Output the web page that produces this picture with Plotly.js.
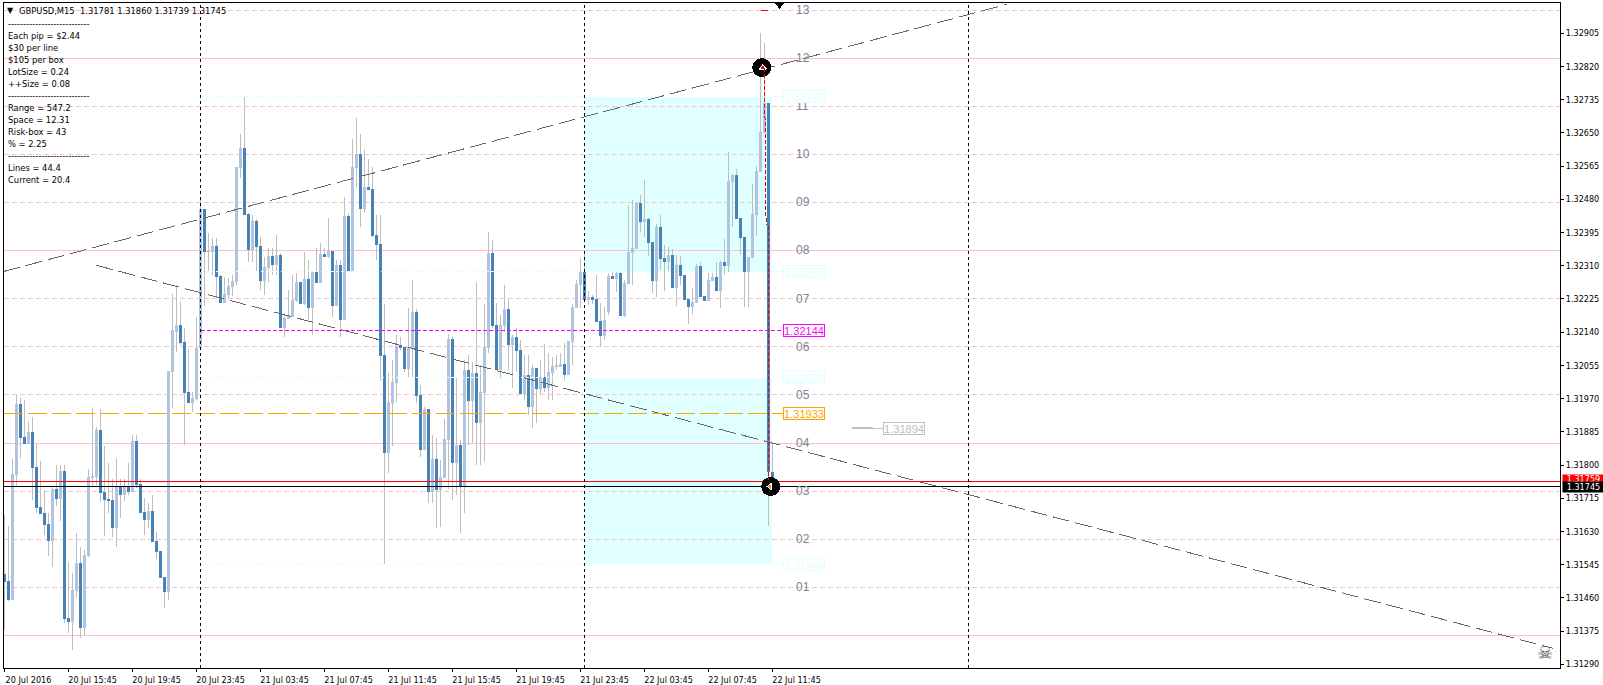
<!DOCTYPE html>
<html><head><meta charset="utf-8">
<script src="https://cdn.plot.ly/plotly-3.0.1.min.js"></script>
<style>html,body{margin:0;padding:0;background:#fff;overflow:hidden}
#c{width:1603px;height:685px}
.main-svg path{shape-rendering:crispEdges}
</style></head><body><div id="c"></div>
<script>
const opens=[1.31521,1.31503,1.31455,1.31774,1.31956,1.31872,1.31854,1.31885,1.31795,1.31693,
1.31677,1.31649,1.31606,1.31739,1.31713,1.31785,1.31409,1.31398,1.31478,1.31549,
1.31383,1.31567,1.31767,1.31769,1.31890,1.31731,1.31713,1.31711,1.31639,1.31744,
1.31723,1.31744,1.31731,1.31861,1.31751,1.31680,1.31659,1.31682,1.31606,1.31580,
1.31513,1.31475,1.32038,1.32140,1.32158,1.32115,1.31987,1.31959,1.31969,1.32099,
1.32455,1.32345,1.32345,1.32360,1.32284,1.32215,1.32235,1.32256,1.32268,1.32560,
1.32611,1.32442,1.32350,1.32424,1.32360,1.32271,1.32304,1.32335,1.32312,1.32337,
1.32151,1.32174,1.32179,1.32220,1.32268,1.32212,1.32276,1.32202,1.32294,1.32266,
1.32340,1.32332,1.32348,1.32207,1.32312,1.32171,1.32437,1.32297,1.32560,1.32596,
1.32455,1.32511,1.32506,1.32389,1.32366,1.32082,1.31831,1.31959,1.32010,1.32105,
1.32102,1.32046,1.32099,1.32192,1.31979,1.31838,1.31943,1.31731,1.31815,1.31736,
1.31767,1.31864,1.32122,1.31805,1.31851,1.31744,1.32043,1.31964,1.32035,1.31908,
1.31984,1.32099,1.32343,1.32158,1.32043,1.32156,1.32199,1.32107,1.32128,1.32094,
1.31982,1.32030,1.31948,1.32048,1.31995,1.32025,1.31997,1.32035,1.32051,1.32051,
1.32059,1.32030,1.32115,1.32202,1.32261,1.32294,1.32222,1.32230,1.32225,1.32169,
1.32130,1.32192,1.32284,1.32276,1.32291,1.32181,1.32263,1.32343,1.32353,1.32471,
1.32422,1.32430,1.32371,1.32271,1.32409,1.32330,1.32320,1.32337,1.32253,1.32312,
1.32286,1.32225,1.32204,1.32215,1.32309,1.32233,1.32220,1.32271,1.32281,1.32245,
1.32320,1.32309,1.32524,1.32542,1.32432,1.32384,1.32294,1.32330,1.32440,1.32550,
1.32650,1.32726,1.31781];
const closes=[1.31501,1.31455,1.31777,1.31956,1.31869,1.31854,1.31885,1.31792,1.31690,1.31675,
1.31647,1.31606,1.31739,1.31713,1.31785,1.31406,1.31398,1.31480,1.31549,1.31383,
1.31570,1.31769,1.31772,1.31890,1.31728,1.31711,1.31708,1.31639,1.31744,1.31723,
1.31746,1.31731,1.31861,1.31749,1.31677,1.31659,1.31682,1.31603,1.31577,1.31511,
1.31475,1.32041,1.32146,1.32158,1.32112,1.31984,1.31959,1.31972,1.32099,1.32455,
1.32345,1.32348,1.32360,1.32281,1.32215,1.32238,1.32258,1.32271,1.32563,1.32611,
1.32440,1.32350,1.32424,1.32358,1.32271,1.32307,1.32335,1.32312,1.32337,1.32151,
1.32176,1.32184,1.32222,1.32268,1.32212,1.32276,1.32202,1.32294,1.32266,1.32340,
1.32332,1.32348,1.32207,1.32312,1.32171,1.32437,1.32297,1.32563,1.32596,1.32455,
1.32511,1.32504,1.32386,1.32363,1.32079,1.31831,1.31961,1.32012,1.32105,1.32099,
1.32046,1.32102,1.32192,1.31977,1.31838,1.31943,1.31731,1.31815,1.31736,1.31769,
1.31867,1.32122,1.31805,1.31851,1.31744,1.32043,1.31964,1.32035,1.31908,1.31987,
1.32102,1.32343,1.32156,1.32043,1.32158,1.32199,1.32107,1.32128,1.32092,1.31982,
1.32030,1.31948,1.32048,1.31995,1.32025,1.31997,1.32038,1.32053,1.32056,1.32059,
1.32030,1.32117,1.32204,1.32263,1.32294,1.32222,1.32230,1.32222,1.32166,1.32130,
1.32171,1.32284,1.32276,1.32291,1.32181,1.32266,1.32345,1.32355,1.32471,1.32422,
1.32430,1.32368,1.32271,1.32409,1.32327,1.32320,1.32337,1.32253,1.32312,1.32284,
1.32222,1.32204,1.32217,1.32309,1.32230,1.32220,1.32273,1.32281,1.32245,1.32320,
1.32309,1.32527,1.32542,1.32430,1.32381,1.32294,1.32332,1.32442,1.32552,1.32652,
1.32726,1.31782,1.31745];
const highs=[1.31672,1.31644,1.31815,1.31979,1.31972,1.31966,1.31910,1.31923,1.31854,1.31810,
1.31736,1.31677,1.31744,1.31800,1.31800,1.31800,1.31552,1.31524,1.31626,1.31590,
1.31583,1.31790,1.31946,1.31897,1.31943,1.31849,1.31805,1.31764,1.31818,1.31764,
1.31764,1.31805,1.31877,1.31877,1.31764,1.31716,1.31703,1.31723,1.31629,1.31580,
1.31513,1.32041,1.32238,1.32261,1.32217,1.32151,1.32097,1.31987,1.32179,1.32486,
1.32455,1.32394,1.32381,1.32381,1.32286,1.32281,1.32279,1.32286,1.32563,1.32647,
1.32742,1.32445,1.32440,1.32430,1.32384,1.32332,1.32355,1.32355,1.32389,1.32343,
1.32189,1.32248,1.32286,1.32291,1.32268,1.32345,1.32325,1.32294,1.32355,1.32368,
1.32355,1.32432,1.32348,1.32325,1.32325,1.32486,1.32445,1.32634,1.32688,1.32647,
1.32606,1.32583,1.32563,1.32440,1.32440,1.32212,1.32035,1.32069,1.32133,1.32128,
1.32102,1.32202,1.32273,1.32199,1.32005,1.31948,1.31943,1.31877,1.31869,1.31813,
1.31918,1.32135,1.32128,1.32023,1.31864,1.32069,1.32082,1.32064,1.32268,1.32056,
1.32212,1.32396,1.32376,1.32215,1.32184,1.32261,1.32225,1.32133,1.32151,1.32120,
1.32082,1.32082,1.32056,1.32048,1.32069,1.32110,1.32087,1.32076,1.32082,1.32087,
1.32112,1.32117,1.32212,1.32273,1.32330,1.32345,1.32245,1.32235,1.32286,1.32215,
1.32204,1.32291,1.32294,1.32294,1.32294,1.32273,1.32465,1.32478,1.32473,1.32491,
1.32529,1.32432,1.32371,1.32417,1.32440,1.32363,1.32358,1.32353,1.32337,1.32335,
1.32286,1.32225,1.32253,1.32314,1.32320,1.32233,1.32291,1.32291,1.32320,1.32322,
1.32378,1.32601,1.32545,1.32558,1.32432,1.32384,1.32332,1.32519,1.32565,1.32906,
1.32880,1.32726,1.31860];
const lows=[1.31378,1.31452,1.31455,1.31744,1.31818,1.31854,1.31854,1.31711,1.31677,1.31675,
1.31621,1.31567,1.31539,1.31695,1.31657,1.31396,1.31370,1.31327,1.31460,1.31357,
1.31365,1.31565,1.31744,1.31749,1.31705,1.31618,1.31677,1.31616,1.31590,1.31664,
1.31708,1.31723,1.31731,1.31741,1.31677,1.31621,1.31639,1.31603,1.31560,1.31511,
1.31434,1.31455,1.31946,1.32089,1.32107,1.31851,1.31959,1.31936,1.31966,1.32099,
1.32207,1.32294,1.32284,1.32227,1.32215,1.32215,1.32227,1.32233,1.32261,1.32534,
1.32440,1.32320,1.32320,1.32294,1.32248,1.32235,1.32268,1.32286,1.32286,1.32151,
1.32128,1.32174,1.32179,1.32217,1.32212,1.32209,1.32171,1.32133,1.32266,1.32266,
1.32332,1.32330,1.32179,1.32207,1.32128,1.32171,1.32297,1.32297,1.32511,1.32409,
1.32445,1.32504,1.32384,1.32325,1.32015,1.31547,1.31780,1.31849,1.31961,1.32094,
1.32038,1.32023,1.32023,1.31959,1.31821,1.31838,1.31703,1.31703,1.31639,1.31641,
1.31767,1.31739,1.31711,1.31723,1.31626,1.31677,1.31851,1.31856,1.31800,1.31800,
1.31808,1.32087,1.32151,1.32043,1.32023,1.32140,1.32043,1.31997,1.32038,1.31982,
1.31966,1.31928,1.31895,1.31908,1.31982,1.31987,1.31966,1.31966,1.32043,1.32051,
1.32015,1.32030,1.32056,1.32202,1.32202,1.32222,1.32209,1.32212,1.32166,1.32102,
1.32120,1.32184,1.32276,1.32243,1.32181,1.32179,1.32263,1.32261,1.32353,1.32396,
1.32384,1.32335,1.32240,1.32230,1.32299,1.32245,1.32297,1.32253,1.32207,1.32261,
1.32222,1.32161,1.32186,1.32215,1.32230,1.32220,1.32220,1.32271,1.32245,1.32202,
1.32286,1.32294,1.32409,1.32430,1.32337,1.32204,1.32204,1.32330,1.32386,1.32550,
1.32650,1.31644,1.31739];
const tickBars=[0,16,32,48,64,80,96,112,128,144,160,176,192];
const tickLabels=["20 Jul 2016","20 Jul 15:45","20 Jul 19:45","20 Jul 23:45","21 Jul 03:45","21 Jul 07:45","21 Jul 11:45","21 Jul 15:45","21 Jul 19:45","21 Jul 23:45","22 Jul 03:45","22 Jul 07:45","22 Jul 11:45"];
const priceTicks=[1.32905,1.32820,1.32735,1.32650,1.32565,1.32480,1.32395,1.32310,1.32225,1.32140,1.32055,1.31970,1.31885,1.31800,1.31715,1.31630,1.31545,1.31460,1.31375,1.31290];
const levelPrices=[1.31364,1.31487,1.31610,1.31733,1.31856,1.31980,1.32103,1.32226,1.32349,1.32472,1.32595,1.32718,1.32841,1.32964];
const levelNames=["","01","02","03","04","05","06","07","08","09","10","11","12","13"];
const daySeparators=[49,145,241];
const risingX=[-0.3,250.6], risingY=[1.32295,1.32979];
const fallingX=[22.95,387.1], fallingY=[1.32311,1.31331];
const boxTop1=1.32742, boxBottom1=1.32295, boxTop2=1.32023, boxBottom2=1.31546;
const pendingPrice=1.32144, entryPrice=1.31933, grayPrice=1.31894, bidRed=1.31759, lastPrice=1.31745;
const leftText=[["---------------------------",24],["Each pip = $2.44",35.5],["$30 per line",47.5],["$105 per box",59.5],["LotSize = 0.24",71.5],["++Size = 0.08",83.5],
["---------------------------",96],["Range = 547.2",107.5],["Space = 12.31",119.5],["Risk-box = 43",131.5],["% = 2.25",143.5],["---------------------------",156],["Lines = 44.4",167.5],["Current = 20.4",179.5]];

const W=1603,H=685,ML=4,MR=43,MT=3,MB=17;
const PX=p=>(p-ML)/(W-ML-MR), PY=p=>1-(p-MT)/(H-MT-MB);
const FONT='"DejaVu Sans Condensed","DejaVu Sans",sans-serif';
const LAB='"Liberation Sans",Arial,sans-serif';
const idx=opens.map((_,i)=>i);
const shapes=[];
const hline=(x0,x1,y,color,dash,layer,w)=>shapes.push({type:'line',xref:'x',yref:'y',x0,x1,y0:y,y1:y,layer:layer||'below',line:{color,width:w||1,dash:dash||'solid'}});
const vline=(x0,x1,y0,y1,color,dash,layer)=>shapes.push({type:'line',xref:'x',yref:'y',x0,x1,y0,y1,layer:layer||'above',line:{color,width:1,dash:dash||'solid'}});
const XMIN=-0.125,XMAX=388.875,YMIN=1.312806,YMAX=1.329823;
[[boxBottom1,boxTop1],[boxBottom2,boxTop2]].forEach(b=>shapes.push({type:'rect',xref:'x',yref:'y',x0:145,x1:191.8,y0:b[0],y1:b[1],layer:'below',fillcolor:'#e0ffff',line:{width:0}}));
[boxTop1,boxBottom1,boxTop2,boxBottom2].forEach(p=>{hline(49,145,p,'#e0ffff','3px,2px','above');hline(191.8,194.6,p,'#e0ffff');});
levelPrices.forEach((p,i)=>hline(XMIN,XMAX,p,'#ffc0cb',i%4===0?'solid':'5px,3px'));
daySeparators.forEach(d=>vline(d,d,YMIN,YMAX,'#000000','3px,3px','above'));
vline(190,190.4,1.32817,1.32414,'#ff0000','4px,2px');
vline(190.95,190.95,1.32411,1.31762,'#ff0000','4px,2px');
hline(189.1,190.9,1.32964,'#ff0000','solid','above');
hline(211.9,217.1,grayPrice,'#c0c0c0','solid','above',2);
hline(217.1,219.6,grayPrice,'#c0c0c0','solid','above',1);

const ann=[];
const t=(text,px,py,color,size,family,anchor)=>ann.push({xref:'paper',yref:'paper',x:PX(px),y:PY(py),text,showarrow:false,xanchor:anchor||'left',yanchor:'middle',font:{color:color||'#000',size:size||9.3,family:family||FONT},borderpad:0,borderwidth:0,captureevents:false});
t('GBPUSD,M15&nbsp;&nbsp;1.31781 1.31860 1.31739 1.31745',19,10.5);
t('▼',6.5,10.5,'#000',8,'DejaVu Sans');
leftText.forEach(r=>t(r[0],8,r[1]));
levelPrices.forEach((p,i)=>{if(levelNames[i])ann.push({xref:'x',yref:'y',x:199.5,y:p,text:levelNames[i],showarrow:false,xanchor:'center',yanchor:'middle',font:{color:'#7b8494',size:12,family:LAB}});});
const box=(p,color,txtColor,x)=>ann.push({xref:'x',yref:'y',x:x||194.6,y:p,text:p.toFixed(5),showarrow:false,xanchor:'left',yanchor:'middle',width:40,height:11,borderpad:0,borderwidth:1,bordercolor:color,bgcolor:'#ffffff',font:{color:txtColor||color,size:11,family:LAB},align:'center'});
[boxTop1,boxBottom1,boxTop2,boxBottom2].forEach(p=>box(p,'#e0ffff'));
box(pendingPrice,'#ff00ff');
box(entryPrice,'#ffa500');
box(grayPrice,'#c0c0c0','#c0c0c0',219.6);
ann.push({xref:'paper',yref:'paper',x:PX(1562),y:PY(479),xanchor:'left',yanchor:'middle',text:bidRed.toFixed(5),showarrow:false,width:41,height:8,bgcolor:'#ff0000',font:{color:'#fff',size:9,family:FONT},borderpad:0});
ann.push({xref:'paper',yref:'paper',x:PX(1562),y:PY(487),xanchor:'left',yanchor:'middle',text:lastPrice.toFixed(5),showarrow:false,width:41,height:10,bgcolor:'#000000',font:{color:'#fff',size:9,family:FONT},borderpad:0});
ann.push({xref:'x',yref:'y',x:385.1,y:1.31319,text:'☠',showarrow:false,font:{color:'#555555',size:18,family:'DejaVu Sans'},xanchor:'center',yanchor:'middle'});

const flatLine=(x0,x1,p,color,dash)=>({type:'scatter',mode:'lines',x:[x0,x1],y:[p,p],line:{color,width:1,dash:dash||'solid'},hoverinfo:'skip',showlegend:false});
const data=[
{type:'bar',x:idx,base:lows,y:idx.map(i=>highs[i]-lows[i]),width:0.25,marker:{color:'#bebebe',line:{width:0}},hoverinfo:'skip',showlegend:false},
{type:'bar',x:idx,base:idx.map(i=>Math.min(opens[i],closes[i])),y:idx.map(i=>Math.abs(closes[i]-opens[i])),width:0.75,marker:{color:idx.map(i=>closes[i]>=opens[i]?'#b0c4de':'#4682b4'),line:{width:0}},hoverinfo:'skip',showlegend:false},
{type:'scatter',mode:'lines',x:risingX,y:risingY,line:{color:'#696969',width:1,dash:'17px,6px'},hoverinfo:'skip',showlegend:false},
{type:'scatter',mode:'lines',x:fallingX,y:fallingY,line:{color:'#696969',width:1,dash:'17px,6px'},hoverinfo:'skip',showlegend:false},
flatLine(49,194.6,pendingPrice,'#ff00ff','4px,2px'),
flatLine(XMIN,194.6,entryPrice,'#ffa500','19px,5px'),
flatLine(XMIN,XMAX,bidRed,'#ff0000'),
flatLine(XMIN,XMAX,lastPrice,'#000000'),
{type:'scatter',mode:'markers',x:[189.3,191.55],y:[1.32817,lastPrice],marker:{color:'#000',size:19,symbol:'circle'},hoverinfo:'skip',showlegend:false},
{type:'scatter',mode:'markers',x:[189.6],y:[1.32817],marker:{color:'#ff0000',size:6,symbol:'triangle-up',line:{color:'#fff',width:1}},hoverinfo:'skip',showlegend:false},
{type:'scatter',mode:'markers',x:[191.4],y:[lastPrice],marker:{color:'#daa520',size:6,symbol:'triangle-left',line:{color:'#fff',width:1}},hoverinfo:'skip',showlegend:false},
{type:'scatter',mode:'markers',x:[193.75],y:[1.32977],marker:{color:'#000',size:8,symbol:'triangle-down'},hoverinfo:'skip',showlegend:false,cliponaxis:false}
];
const layout={width:W,height:H,margin:{l:ML,r:MR,t:MT,b:MB,pad:0},paper_bgcolor:'#fff',plot_bgcolor:'#fff',showlegend:false,hovermode:false,barmode:'overlay',bargap:0,
xaxis:{type:'linear',range:[XMIN,XMAX],tickmode:'array',tickvals:tickBars,ticktext:tickLabels,ticks:'outside',ticklen:3,tickwidth:1,tickcolor:'#000',showgrid:false,zeroline:false,showline:true,mirror:true,linecolor:'#000',linewidth:1,tickangle:0,ticklabelshift:24,ticklabelstandoff:0,tickfont:{family:FONT,size:9,color:'#000'},automargin:false,fixedrange:true},
yaxis:{type:'linear',side:'right',range:[YMIN,YMAX],tickmode:'array',tickvals:priceTicks,ticktext:priceTicks.map(p=>p.toFixed(5)),ticks:'outside',ticklen:3,tickwidth:1,tickcolor:'#000',showgrid:false,zeroline:false,showline:true,mirror:true,linecolor:'#000',linewidth:1,tickfont:{family:FONT,size:9,color:'#000'},automargin:false,fixedrange:true},
shapes,annotations:ann};
Plotly.newPlot('c',data,layout,{displayModeBar:false,staticPlot:true});
</script></body></html>
